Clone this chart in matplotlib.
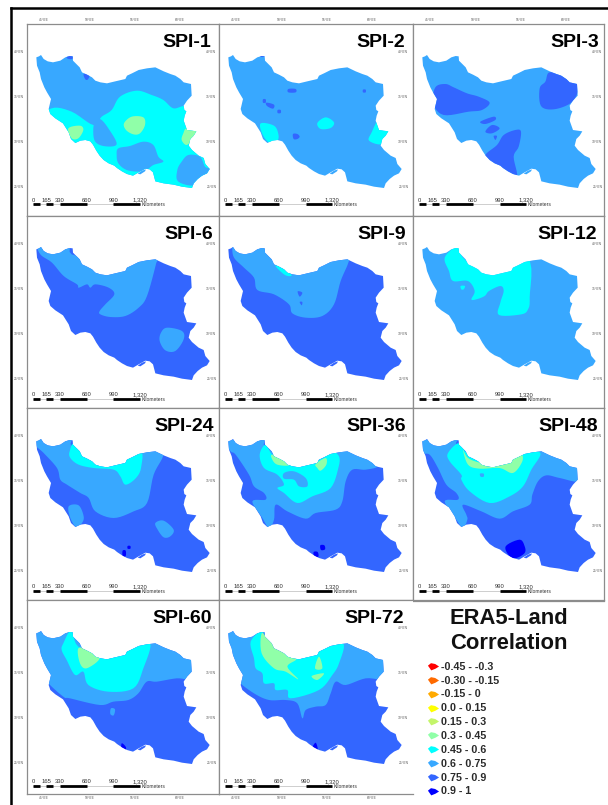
import numpy as np
import matplotlib
matplotlib.use('Agg')
import matplotlib.pyplot as plt
from matplotlib.patches import Polygon

plt.rcParams['font.family'] = ['Liberation Sans', 'DejaVu Sans']

W, H = 608, 805

# legend classes, lowest to highest correlation
CLASS_LABELS = ['-0.45 - -0.3', '-0.30 - -0.15', '-0.15 - 0', '0.0 - 0.15', '0.15 - 0.3',
                '0.3 - 0.45', '0.45 - 0.6', '0.6 - 0.75', '0.75 - 0.9', '0.9 - 1']
CLASS_COLORS = ['#ff0000', '#ff6a00', '#ffaa00', '#ffff00', '#c4f56a',
                '#90ffa8', '#00ffff', '#38a8ff', '#3366ff', '#0000ff']
GREEN, CYAN, MID, HIGH, TOP = 5, 6, 7, 8, 9

# Country outline and zones, in map units (3 units = 1 pixel of a panel)
OUTLINE = [(28, 100), (36, 97), (42, 93), (50, 105), (62, 112), (78, 115), (100, 110), (115, 100), (128, 96),
           (137, 97), (138, 110), (150, 122), (158, 130), (165, 145), (180, 152), (195, 160), (205, 170),
           (220, 175), (240, 178), (265, 172), (295, 165), (300, 155), (315, 148), (335, 138), (360, 133),
           (385, 130), (410, 142), (430, 150), (445, 155), (460, 165), (470, 175), (492, 180), (494, 215),
           (480, 230), (470, 245), (472, 258), (478, 262), (473, 275), (470, 290), (480, 318), (508, 322),
           (500, 335), (490, 345), (485, 365), (495, 378), (515, 395), (530, 402), (535, 420), (548, 435),
           (540, 448), (525, 455), (512, 465), (500, 478), (495, 492), (465, 488), (440, 482), (410, 478),
           (385, 472), (378, 445), (368, 436), (355, 434), (335, 445), (318, 455), (300, 450), (285, 442),
           (270, 432), (262, 425), (245, 418), (230, 408), (218, 395), (208, 380), (198, 362), (190, 352),
           (175, 348), (160, 350), (145, 357), (132, 345), (125, 325), (108, 298), (85, 283), (70, 270),
           (65, 255), (72, 225), (60, 205), (52, 190), (42, 165), (38, 145), (30, 125)]
GULF_ISLAND = [(332, 449), (345, 440), (357, 436), (354, 442), (340, 451)]

SPI1_ZONES = [
    (CYAN, [(74, 253), (134, 263), (199, 303), (224, 278), (254, 258), (279, 218), (329, 200), (374, 213),
            (409, 228), (439, 253), (474, 246), (520, 260), (560, 400), (560, 520), (400, 520), (200, 450), (40, 300)]),
    (MID, [(201, 298), (219, 285), (244, 313), (269, 361), (229, 366), (202, 348)]),
    (MID, [(274, 373), (309, 366), (349, 353), (379, 363), (394, 398), (409, 413), (379, 423), (359, 438),
           (339, 443), (299, 438), (274, 418), (269, 393)]),
    (MID, [(484, 393), (519, 398), (534, 428), (549, 438), (509, 483), (454, 473), (451, 438), (464, 413)]),
    (GREEN, [(291, 298), (314, 278), (349, 280), (354, 303), (339, 328), (319, 331), (297, 318)]),
    (GREEN, [(124, 313), (159, 305), (169, 318), (154, 343), (134, 343)]),
    (GREEN, [(479, 313), (509, 323), (499, 343), (479, 363), (464, 348), (469, 328)]),
    (HIGH, [(119, 97), (130, 90), (142, 96), (135, 105), (122, 104)]),
    (HIGH, [(170, 150), (188, 150), (183, 166), (175, 166)]),
]
SPI2_ZONES = [
    (CYAN, [(295, 297), (320, 280), (345, 295), (335, 312), (305, 315)]),
    (CYAN, [(125, 298), (165, 305), (178, 330), (175, 350), (150, 355), (130, 330)]),
    (CYAN, [(478, 288), (490, 318), (512, 320), (490, 360), (450, 350), (458, 325)]),
    (HIGH, [(222, 330), (235, 330), (242, 338), (235, 345), (224, 345)]),
    (HIGH, [(208, 195), (230, 195), (230, 205), (208, 205)]),
    (HIGH, [(132, 226), (140, 226), (140, 236), (132, 236)]),
    (HIGH, [(142, 236), (165, 242), (162, 254), (144, 246)]),
    (HIGH, [(176, 258), (185, 258), (185, 267), (176, 267)]),
    (HIGH, [(122, 88), (140, 88), (136, 98), (124, 98)]),
    (HIGH, [(432, 197), (440, 197), (440, 205), (432, 205)]),
]
SPI3_ZONES = [
    (HIGH, [(407, 146), (437, 150), (467, 168), (495, 173), (495, 203), (472, 238), (422, 256), (384, 246),
            (380, 193), (397, 173)]),
    (HIGH, [(67, 190), (97, 180), (122, 190), (162, 208), (197, 218), (230, 236), (207, 258), (167, 263),
            (92, 273), (60, 238)]),
    (HIGH, [(202, 293), (242, 278), (247, 288), (217, 300)]),
    (HIGH, [(217, 323), (237, 303), (260, 313), (237, 328)]),
    (HIGH, [(242, 336), (252, 336), (247, 348)]),
    (HIGH, [(217, 393), (252, 363), (272, 333), (307, 318), (324, 323), (317, 368), (302, 398), (312, 460),
            (272, 450), (225, 420)]),
]
SPI6_ZONES = [
    (MID, [(38, 85), (125, 80), (150, 120), (390, 120), (388, 140), (360, 240), (335, 275), (295, 300), (250, 303),
           (220, 295), (218, 285), (235, 265), (262, 235), (245, 215), (205, 205), (190, 215), (180, 205),
           (155, 215), (150, 205), (110, 180), (75, 140), (40, 115)]),
    (MID, [(420, 335), (465, 345), (470, 370), (445, 405), (415, 403), (398, 375), (402, 350)]),
]
SPI9_ZONES = [
    (MID, [(40, 95), (45, 85), (125, 80), (150, 120), (200, 150), (290, 150), (385, 120), (388, 140), (365, 195),
           (345, 265), (310, 300), (260, 305), (220, 292), (210, 265), (165, 235), (115, 222), (105, 185),
           (75, 155), (45, 125)]),
    (HIGH, [(236, 226), (250, 230), (242, 242)]),
    (HIGH, [(242, 258), (250, 258), (248, 268)]),
    (CYAN, [(170, 148), (195, 155), (218, 178), (200, 178), (178, 160)]),
]
SPI12_ZONES = [
    (CYAN, [(95, 125), (130, 90), (142, 95), (150, 125), (200, 150), (342, 125), (350, 245), (345, 280),
            (325, 295), (258, 297), (262, 260), (272, 225), (262, 210), (228, 225), (215, 240), (190, 250),
            (175, 250), (185, 225), (165, 195), (120, 195), (108, 165)]),
    (CYAN, [(143, 210), (156, 210), (152, 220), (145, 220)]),
]
SPI24_ZONES = [
    (MID, [(38, 85), (135, 80), (150, 120), (400, 120), (408, 145), (380, 200), (360, 285), (320, 310),
           (260, 330), (205, 310), (185, 270), (160, 255), (120, 230), (100, 215), (90, 180), (50, 135), (25, 110)]),
    (MID, [(125, 295), (155, 292), (170, 325), (165, 345), (148, 358), (130, 330)]),
    (MID, [(385, 345), (410, 338), (440, 365), (430, 385), (410, 388), (392, 365)]),
    (CYAN, [(128, 130), (145, 105), (200, 150), (250, 160), (338, 125), (342, 180), (325, 212), (295, 230),
            (280, 205), (260, 185), (200, 180), (155, 170), (130, 150)]),
    (TOP, [(287, 428), (296, 428), (296, 444), (287, 444)]),
    (TOP, [(302, 414), (310, 414), (310, 422), (302, 422)]),
]
SPI36_ZONES = [
    (MID, [(25, 100), (135, 85), (150, 120), (360, 120), (400, 135), (475, 172), (440, 185), (400, 185),
           (380, 220), (370, 280), (350, 305), (290, 315), (260, 332), (205, 310), (170, 290), (165, 335),
           (150, 360), (130, 330), (100, 280), (140, 275), (135, 255), (105, 235), (90, 200), (50, 140), (35, 130)]),
    (CYAN, [(122, 140), (140, 110), (160, 140), (200, 155), (300, 155), (335, 130), (360, 145), (358, 180),
            (335, 240), (280, 265), (235, 285), (195, 255), (175, 240), (195, 230), (175, 200), (135, 180)]),
    (MID, [(195, 195), (225, 190), (260, 210), (265, 235), (240, 235), (225, 215), (195, 212)]),
    (GREEN, [(160, 140), (205, 155), (210, 172), (175, 170), (160, 155)]),
    (GREEN, [(290, 168), (320, 150), (322, 170), (305, 188), (295, 180)]),
    (TOP, [(284, 432), (296, 432), (298, 446), (286, 446)]),
    (TOP, [(304, 412), (316, 412), (318, 424), (306, 426)]),
]
SPI48_ZONES = [
    (MID, [(22, 100), (135, 85), (145, 115), (380, 125), (500, 175), (500, 220), (440, 210), (400, 202),
           (375, 220), (358, 260), (350, 290), (300, 310), (260, 332), (205, 310), (150, 290), (160, 320),
           (163, 335), (150, 360), (130, 335), (95, 280), (135, 275), (130, 255), (100, 230), (75, 180),
           (50, 140), (25, 135)]),
    (CYAN, [(105, 135), (140, 105), (175, 140), (325, 130), (382, 135), (355, 185), (330, 235), (290, 265),
            (230, 285), (170, 250), (145, 215), (145, 200), (110, 160)]),
    (GREEN, [(150, 125), (165, 150), (205, 165), (262, 170), (310, 145), (325, 135), (328, 160), (300, 195),
             (260, 180), (200, 182), (165, 170)]),
    (MID, [(201, 197), (212, 197), (212, 206), (203, 206)]),
    (TOP, [(278, 415), (320, 395), (335, 415), (335, 435), (310, 450), (290, 445)]),
]
SPI60_ZONES = [
    (MID, [(22, 100), (134, 88), (369, 125), (500, 175), (500, 235), (449, 235), (389, 245), (359, 245),
           (334, 280), (304, 300), (259, 305), (219, 315), (129, 295), (109, 290), (60, 245), (65, 230), (25, 130)]),
    (MID, [(252, 325), (264, 328), (260, 346), (250, 342)]),
    (CYAN, [(109, 130), (134, 88), (154, 140), (239, 165), (304, 150), (369, 130), (349, 205), (319, 265),
            (244, 275), (184, 255), (169, 215), (144, 225), (119, 180), (104, 150)]),
    (GREEN, [(154, 145), (189, 150), (218, 175), (179, 205), (159, 190)]),
    (TOP, [(284, 430), (296, 440), (296, 450), (284, 452)]),
]
SPI72_ZONES = [
    (MID, [(20, 100), (135, 88), (370, 125), (500, 175), (500, 235), (440, 235), (380, 255), (350, 245),
           (335, 280), (320, 315), (290, 320), (260, 330), (250, 355), (235, 310), (200, 300), (150, 300),
           (105, 280), (60, 245), (65, 225), (30, 140)]),
    (CYAN, [(95, 125), (130, 92), (135, 130), (210, 165), (300, 150), (372, 130), (360, 190), (340, 225),
            (300, 270), (215, 295), (205, 270), (170, 270), (165, 250), (135, 250), (130, 220), (110, 205), (105, 175)]),
    (GREEN, [(128, 100), (150, 120), (210, 165), (232, 178), (205, 200), (238, 238), (200, 215), (165, 205), (128, 160)]),
    (GREEN, [(300, 170), (310, 205), (288, 205)]),
    (GREEN, [(278, 228), (315, 220), (295, 240)]),
    (TOP, [(280, 445), (290, 428), (296, 450)]),
]

PANEL_TITLES = ['SPI-1', 'SPI-2', 'SPI-3', 'SPI-6', 'SPI-9', 'SPI-12',
                'SPI-24', 'SPI-36', 'SPI-48', 'SPI-60', 'SPI-72']
TITLE_RIGHT = [552, 558, 557, 558, 560, 552, 562, 562, 556, 556, 555]
PANEL_BASE = [MID, MID, MID, HIGH, HIGH, MID, HIGH, HIGH, HIGH, HIGH, HIGH]
PANEL_ZONES = [SPI1_ZONES, SPI2_ZONES, SPI3_ZONES, SPI6_ZONES, SPI9_ZONES, SPI12_ZONES,
               SPI24_ZONES, SPI36_ZONES, SPI48_ZONES, SPI60_ZONES, SPI72_ZONES]

SCALE_LABELS = ['0', '165', '330', '660', '990', '1,320']
SCALE_KM = [0, 165, 330, 660, 990, 1320]
LON_LABELS = ["45°0'E", "50°0'E", "55°0'E", "60°0'E"]
LAT_LABELS = ["40°0'N", "35°0'N", "30°0'N", "25°0'N"]

COL_EDGES = [27, 219, 413, 604]
ROW_EDGES = [24, 216, 408, 600, 794]
SCALE_Y = [541, 548, 550, 558]
LON_TICKS = [52, 187, 322, 459]
LAT_TICKS = [83, 218, 354, 490]


def smooth(points, steps=6):
    # closed Catmull-Rom curve, it goes through the points
    p = np.array(points, dtype=float)
    t = np.linspace(0, 1, steps, endpoint=False)[:, None]
    out = []
    for i in range(len(p)):
        p0, p1, p2, p3 = p[i - 1], p[i], p[(i + 1) % len(p)], p[(i + 2) % len(p)]
        out.append(0.5 * (2 * p1 + (p2 - p0) * t + (2 * p0 - 5 * p1 + 4 * p2 - p3) * t ** 2
                          + (3 * p1 - p0 - 3 * p2 + p3) * t ** 3))
    return np.vstack(out)


def draw_scale(ax, y):
    # km to map units: 1320 km spans 322 units starting at 18
    unit = 322 / 1320
    ax.plot([18, 340], [y, y], color='#bbbbbb', lw=0.5, solid_capstyle='butt')
    for a, b in [(0, 82.5), (165, 247.5), (330, 660), (990, 1320)]:
        ax.plot([18 + a * unit, 18 + b * unit], [y, y], color='black', lw=2, solid_capstyle='butt')
    for km, lab in zip(SCALE_KM, SCALE_LABELS):
        ax.text(18 + km * unit, y - 13, lab, fontsize=4.2, ha='center', va='center', color='#333333')
    ax.text(345, y + 1, 'Kilometers', fontsize=3.6, ha='left', va='center', color='#333333')


fig = plt.figure(figsize=(W / 100, H / 100), dpi=100, facecolor='white')

# whole figure layer for the frame and the legend, in pixels
bg = fig.add_axes([0, 0, 1, 1])
bg.set_xlim(0, W)
bg.set_ylim(H, 0)
bg.axis('off')
bg.plot([11, 11], [8.5, H], color='black', lw=1.8)
bg.plot([11, W], [8.5, 8.5], color='black', lw=1.8)

for n, title in enumerate(PANEL_TITLES):
    row, col = n // 3, n % 3
    x0, x1 = COL_EDGES[col], COL_EDGES[col + 1]
    y0, y1 = ROW_EDGES[row], ROW_EDGES[row + 1]
    ax = fig.add_axes([x0 / W, 1 - y1 / H, (x1 - x0) / W, (y1 - y0) / H])
    ax.set_xlim(0, (x1 - x0) * 3)
    ax.set_ylim((y1 - y0) * 3, 0)
    ax.set_xticks([])
    ax.set_yticks([])
    for s in ax.spines.values():
        s.set_color('#8c8c8c')
        s.set_linewidth(0.9)
    if title == 'SPI-72':
        ax.spines['right'].set_visible(False)

    country = Polygon(OUTLINE, closed=True, fc=CLASS_COLORS[PANEL_BASE[n]], ec='none', zorder=1)
    ax.add_patch(country)
    for cls, pts in PANEL_ZONES[n]:
        zone = Polygon(smooth(pts), closed=True, fc=CLASS_COLORS[cls], ec='none', zorder=2)
        ax.add_patch(zone)
        zone.set_clip_path(country)
    ax.add_patch(Polygon(GULF_ISLAND, closed=True, fc=CLASS_COLORS[PANEL_BASE[n]], ec='none', zorder=2))

    ax.text(TITLE_RIGHT[n], 55, title, fontsize=14, fontweight='bold', ha='right', va='center', color='black', zorder=5)
    draw_scale(ax, SCALE_Y[row])

    # tiny graticule labels
    for lab, yt in zip(LAT_LABELS, LAT_TICKS):
        ax.text(553, yt, lab, fontsize=2.4, ha='center', va='center', color='#555555')
        if col == 0:
            ax.text(-24, yt, lab, fontsize=2.4, ha='center', va='center', color='#555555', clip_on=False)
    for lab, xt in zip(LON_LABELS, LON_TICKS):
        if row == 0:
            ax.text(xt, -13, lab, fontsize=2.4, ha='center', va='center', color='#555555', clip_on=False)
        if row == 3:
            ax.text(xt, (y1 - y0) * 3 + 12, lab, fontsize=2.4, ha='center', va='center', color='#555555', clip_on=False)

# right hand legend block
bg.plot([413, 604], [601, 601], color='#8c8c8c', lw=0.9)
bg.text(509, 618, 'ERA5-Land', fontsize=15.8, fontweight='bold', ha='center', va='center', color='#111111')
bg.text(509, 643, 'Correlation', fontsize=15.8, fontweight='bold', ha='center', va='center', color='#111111')
blob = [(-1, 0.15), (-0.45, 0.6), (0.3, 0.45), (1, 0), (0.35, -0.4), (-0.4, -0.7)]
for i, (lab, colr) in enumerate(zip(CLASS_LABELS, CLASS_COLORS)):
    y = 666 + i * 13.85
    bg.plot([433], [y], marker=blob, ms=8, color=colr, mec='none', ls='none')
    bg.text(441, y + 0.7, lab, fontsize=7.7, fontweight='bold', ha='left', va='center', color='#2a2a2a')

fig.savefig('out.png', dpi=100)
